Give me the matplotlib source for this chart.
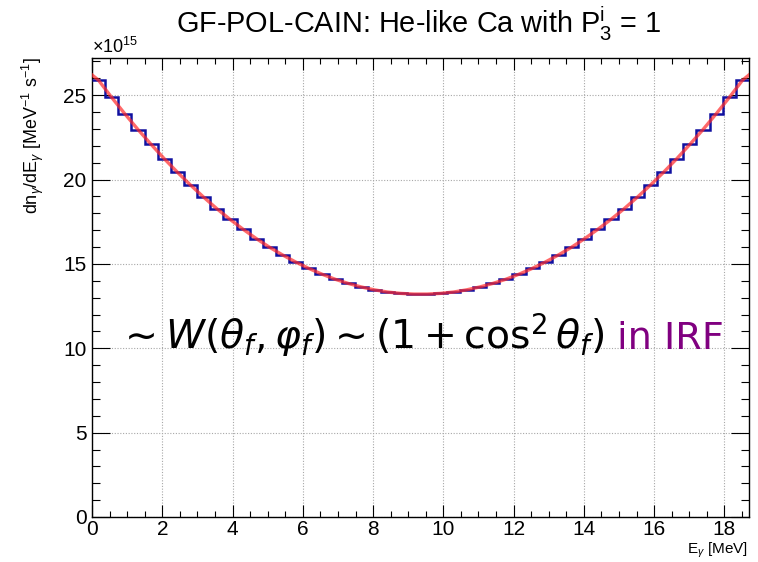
import numpy as np
import matplotlib
matplotlib.use("Agg")
import matplotlib.pyplot as plt
from matplotlib.ticker import MultipleLocator

plt.rcParams['font.family'] = ['Liberation Sans', 'DejaVu Sans']
plt.rcParams['mathtext.fontset'] = 'custom'
plt.rcParams['mathtext.rm'] = 'Liberation Sans'
plt.rcParams['mathtext.it'] = 'Liberation Sans:italic'
plt.rcParams['mathtext.bf'] = 'Liberation Sans:bold'

# histogram: 50 bins over 0 .. 18.7 MeV, counts in units of 1e15
e_min = 0.0
e_max = 18.7
n_bins = 50
counts = [25.88, 24.86, 23.89, 22.96, 22.08, 21.23, 20.43, 19.67, 18.95, 18.27,
          17.64, 17.05, 16.50, 15.99, 15.53, 15.11, 14.73, 14.39, 14.09, 13.84,
          13.63, 13.46, 13.33, 13.25, 13.21, 13.21, 13.25, 13.33, 13.46, 13.63,
          13.84, 14.09, 14.39, 14.73, 15.11, 15.53, 15.99, 16.50, 17.05, 17.64,
          18.27, 18.95, 19.67, 20.43, 21.23, 22.08, 22.96, 23.89, 24.86, 25.88]
# fit curve values at the two edges of the range
fit_edge = [26.2, 26.2]

edges = np.linspace(e_min, e_max, n_bins + 1)
centers = 0.5 * (edges[:-1] + edges[1:])

W, H = 758, 562
fig = plt.figure(figsize=(W / 100, H / 100), dpi=100)
ax = fig.add_axes([92 / W, 1 - 517 / H, (749 - 92) / W, (517 - 58) / H])

ax.stairs(counts, edges, baseline=None, color='#1010a0', lw=1.8, zorder=3)
fit_x = np.concatenate([[e_min], centers, [e_max]])
fit_y = np.concatenate([[fit_edge[0]], counts, [fit_edge[1]]])
ax.plot(fit_x, fit_y, color='#ff2a2a', lw=2.4, alpha=0.7, zorder=4)

ax.set_xlim(e_min, e_max)
ax.set_ylim(0, 27.2)
ax.xaxis.set_major_locator(MultipleLocator(2))
ax.xaxis.set_minor_locator(MultipleLocator(0.5))
ax.yaxis.set_major_locator(MultipleLocator(5))
ax.yaxis.set_minor_locator(MultipleLocator(1))
ax.grid(True, which='major', ls=(0, (1, 1.5)), color='#a8a8a8', lw=0.8)
ax.tick_params(which='both', direction='in', top=True, right=True, labelsize=15, width=0.8)
ax.tick_params(axis='x', which='major', length=8.6, pad=2.5)
ax.tick_params(axis='x', which='minor', length=4.3)
ax.tick_params(axis='y', which='major', length=13, pad=4)
ax.tick_params(axis='y', which='minor', length=5.5)
for s in ax.spines.values():
    s.set_linewidth(1.0)

ax.text(0.0, 1.003, r'$\times$10$^{15}$', transform=ax.transAxes, fontsize=13,
        ha='left', va='bottom')

renderer = fig.canvas.get_renderer()


def fit_width(t, target_px):
    # scale a text so that it spans target_px pixels
    w = t.get_window_extent(renderer).width
    t.set_fontsize(t.get_fontsize() * target_px / w)


title = fig.text(176 / W, 1 - 33 / H,
                 r'GF-POL-CAIN: He-like Ca with P$^{\mathrm{i}}_{3}$ = 1',
                 ha='left', va='baseline', fontsize=18)
fit_width(title, 662 - 176)

ylab = fig.text(33 / W, 1 - 57 / H, r'dn$_{\gamma}$/dE$_{\gamma}$ [MeV$^{-1}$ s$^{-1}$]',
                rotation=90, ha='center', va='top', fontsize=12)
ylab_h = ylab.get_window_extent(renderer).height
ylab.set_fontsize(12 * 156 / ylab_h)

fig.text(748 / W, 1 - 554 / H, r'E$_{\gamma}$ [MeV]', ha='right', va='baseline', fontsize=11)

formula = fig.text(117 / W, 1 - 349 / H,
                   r'$\sim W(\theta_f, \varphi_f) \sim (1 + \cos^2\theta_f)$',
                   ha='left', va='baseline', fontsize=28, math_fontfamily='dejavusans')
fit_width(formula, 604 - 117)
irf = fig.text(724 / W, 1 - 349 / H, 'in IRF', ha='right', va='baseline',
               fontsize=28, color='#800080', family=['DejaVu Sans'])
fit_width(irf, 724 - 617)

fig.savefig('out.png', dpi=100)
